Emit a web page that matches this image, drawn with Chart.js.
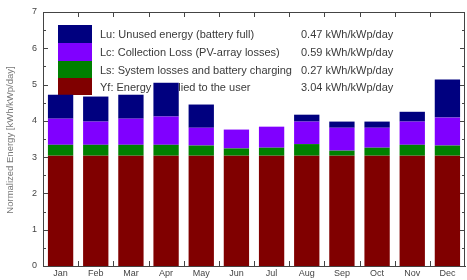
<!DOCTYPE html>
<html>
<head>
<meta charset="utf-8">
<script src="https://cdn.jsdelivr.net/npm/chart.js@4"></script>
<style>
  html, body { margin:0; padding:0; background:#fff; }
  #wrap { width:467px; height:280px; }
</style>
</head>
<body>
<div id="wrap"><canvas id="c" width="467" height="280"></canvas></div>
<script>
/* --- data (kWh/kWp/day) --- */
const months = ['Jan','Feb','Mar','Apr','May','Jun','Jul','Aug','Sep','Oct','Nov','Dec'];
const yf = [3.04,3.04,3.04,3.04,3.04,3.04,3.04,3.04,3.04,3.04,3.04,3.04];
const ls = [0.30,0.30,0.30,0.30,0.28,0.20,0.22,0.32,0.14,0.22,0.30,0.28];
const lc = [0.72,0.64,0.72,0.78,0.49,0.52,0.58,0.62,0.63,0.55,0.64,0.77];
const lu = [0.66,0.69,0.66,0.93,0.64,0.00,0.00,0.19,0.17,0.17,0.27,1.05];
const yTicks = [0,1,2,3,4,5,6,7];

const legendLabels = [
  'Lu: Unused energy (battery full)',
  'Lc: Collection Loss (PV-array losses)',
  'Ls: System losses and battery charging',
  'Yf: Energy supplied to the user'
];
const legendValues = ['0.47 kWh/kWp/day','0.59 kWh/kWp/day','0.27 kWh/kWp/day','3.04 kWh/kWp/day'];

/* colours, top of stack first (same order as legend) */
const cols = ['#00007f','#8000ff','#008000','#800000'];
const FONT = '"Liberation Sans", Arial, sans-serif';

/* legend drawn under the bars + box ticks, MATLAB style */
const deco = {
  id:'deco',
  beforeDatasetsDraw(chart){
    const c = chart.ctx;
    c.save();
    const rows = [25, 43, 61, 78, 95];
    for (let i=0;i<4;i++){
      c.fillStyle = cols[i];
      c.fillRect(58, rows[i], 34, rows[i+1]-rows[i]);
    }
    c.fillStyle = '#3a3a3a';
    c.font = '11px ' + FONT;
    c.textBaseline = 'middle';
    for (let i=0;i<4;i++){
      const y = (rows[i]+rows[i+1])/2 + 1;
      c.fillText(legendLabels[i], 100, y);
      c.fillText(legendValues[i], 301, y);
    }
    c.restore();
  },
  afterDraw(chart){
    const c = chart.ctx, a = chart.chartArea;
    const ys = chart.scales.y;
    c.save();
    c.strokeStyle = '#444';
    c.lineWidth = 1;
    c.beginPath();
    c.moveTo(a.left, a.top+0.5); c.lineTo(a.right, a.top+0.5);
    c.moveTo(a.right-0.5, a.top); c.lineTo(a.right-0.5, a.bottom);
    // y ticks, inward, both sides (with halves)
    for (let v=0; v<=7; v+=0.5){
      const y = Math.round(ys.getPixelForValue(v))+0.5;
      const len = (v%1===0) ? 5 : 3;
      c.moveTo(a.left, y); c.lineTo(a.left+len, y);
      c.moveTo(a.right, y); c.lineTo(a.right-len, y);
    }
    // x ticks at category boundaries, top and bottom
    const step = (a.right-a.left)/months.length;
    for (let i=1;i<months.length;i++){
      const x = Math.round(a.left+i*step)+0.5;
      c.moveTo(x, a.bottom); c.lineTo(x, a.bottom-5);
      c.moveTo(x, a.top); c.lineTo(x, a.top+5);
    }
    c.stroke();
    // y axis title
    c.translate(10, 140);
    c.rotate(-Math.PI/2);
    c.fillStyle = '#777';
    c.font = '9.5px ' + FONT;
    c.textAlign = 'center';
    c.textBaseline = 'middle';
    c.fillText('Normalized Energy [kWh/kWp/day]', 0, 0);
    c.restore();
  }
};

const mk = (label, data, color) => ({
  label, data, backgroundColor: color, borderWidth: 0,
  barPercentage: 0.72, categoryPercentage: 1.0
});

new Chart(document.getElementById('c'), {
  type: 'bar',
  data: {
    labels: months,
    datasets: [
      mk('Yf', yf, cols[3]),
      mk('Ls', ls, cols[2]),
      mk('Lc', lc, cols[1]),
      mk('Lu', lu, cols[0])
    ]
  },
  plugins: [deco],
  options: {
    responsive: false,
    animation: false,
    layout: { padding: { left:0, right:2, top:12, bottom:0 } },
    plugins: { legend:{display:false}, tooltip:{enabled:false} },
    scales: {
      x: {
        stacked: true,
        grid: { display:false, drawTicks:false },
        border: { display:true, color:'#444' },
        ticks: { color:'#444', padding:2, font:{ size:9, family:FONT } },
        afterFit: s => { s.height = 14; }
      },
      y: {
        stacked: true,
        min: 0, max: 7,
        afterBuildTicks: s => { s.ticks = yTicks.map(v => ({ value: v })); },
        grid: { display:false, drawTicks:false },
        border: { display:true, color:'#444' },
        ticks: { color:'#444', padding:6, font:{ size:9, family:FONT } },
        afterFit: s => { s.width = 43; }
      }
    }
  }
});
</script>
</body>
</html>
